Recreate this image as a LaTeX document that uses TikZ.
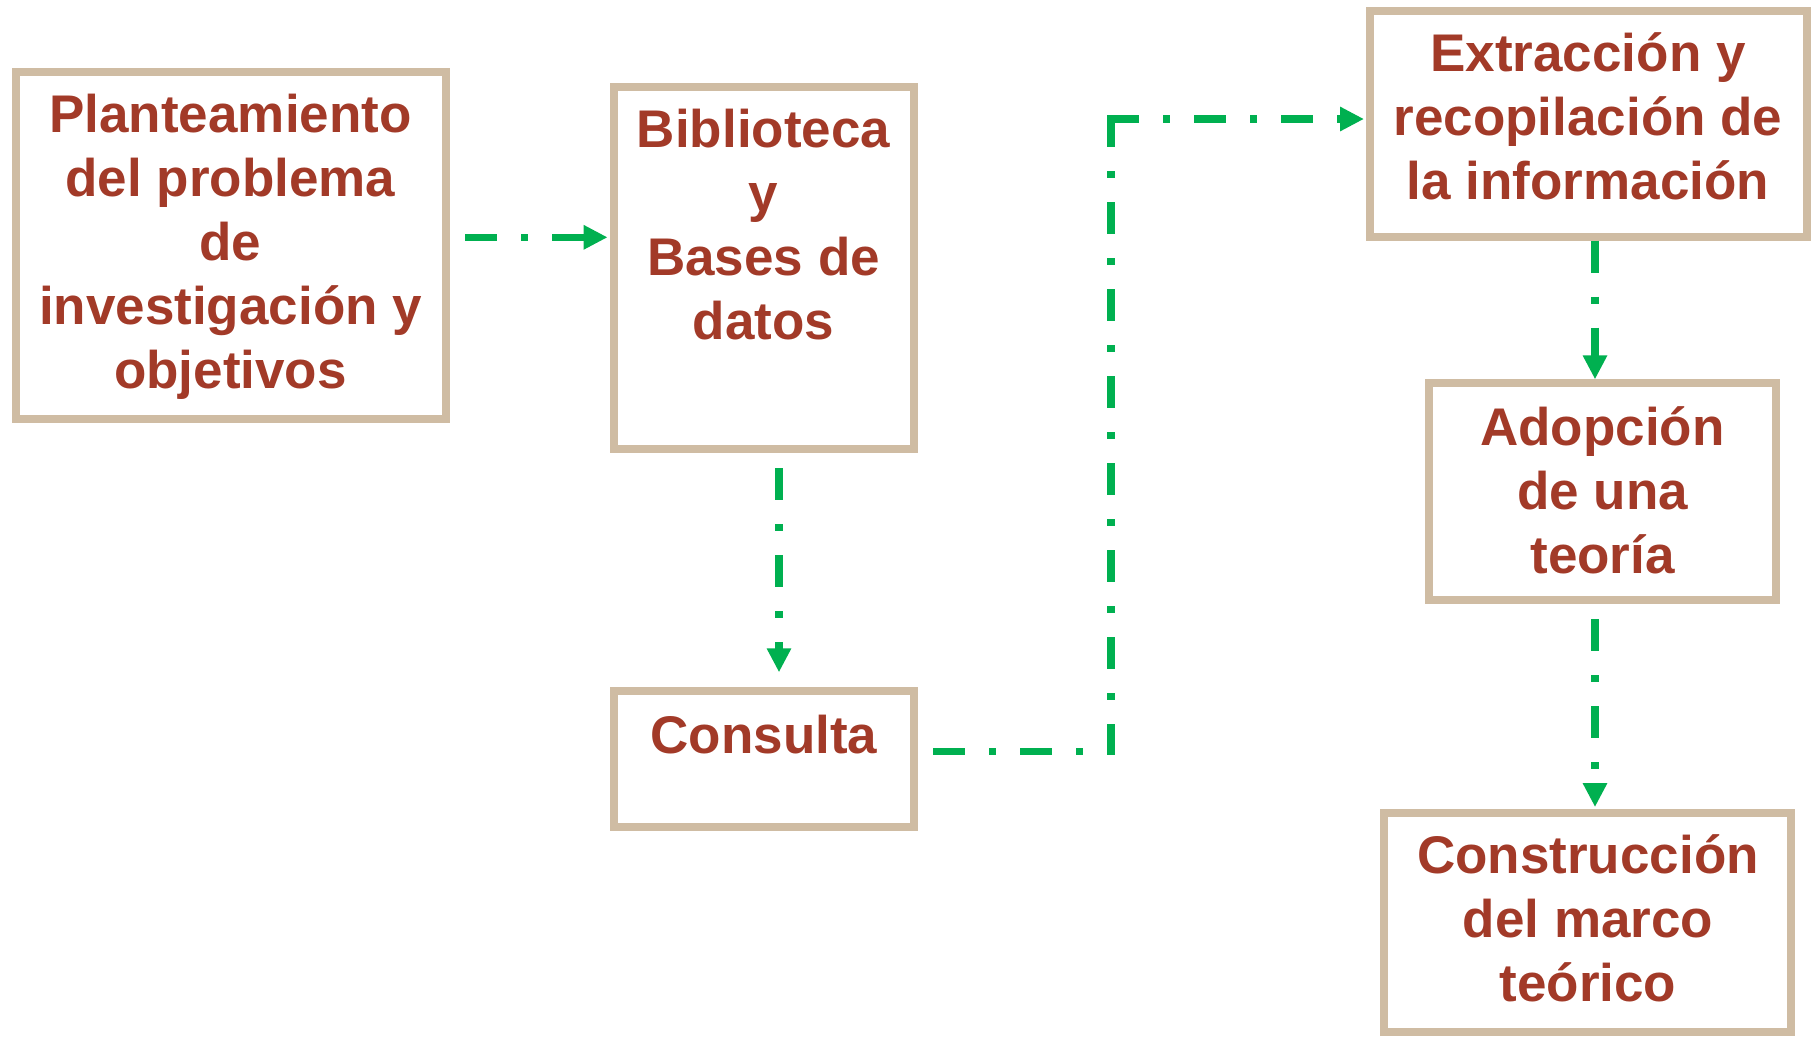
\documentclass[tikz,border=0pt]{standalone}
\usepackage{fontspec}
\setmainfont{Liberation Sans}
\usetikzlibrary{arrows.meta,calc}
\definecolor{txt}{HTML}{A23A28}
\definecolor{tanb}{HTML}{CFBCA3}
\definecolor{grn}{HTML}{00B050}
\begin{document}
\begin{tikzpicture}[x=1pt,y=-1pt,
  box/.style={draw=tanb,line width=8pt,rectangle,inner sep=0pt,fill=white},
  lbl/.style={text=txt,font=\bfseries\fontsize{53pt}{64pt}\selectfont,align=center,inner sep=0pt,anchor=base},
  seg/.style={draw=grn,line width=7.5pt,dash pattern=on 32pt off 24pt on 7pt off 24pt},
  conn/.style={seg,-{Triangle[length=24pt,width=23pt]}}]
\useasboundingbox (0,0) rectangle (1812,1037);
\fill[white] (0,0) rectangle (1812,1037);
% boxes
\node[box,minimum width=430pt,minimum height=347pt] (b1) at (230.5,245.2) {};
\node[box,minimum width=300pt,minimum height=361.4pt] (b2) at (763.6,268) {};
\node[box,minimum width=300pt,minimum height=136pt] (b3) at (763.6,759.3) {};
\node[box,minimum width=437pt,minimum height=225.4pt] (b4) at (1588,124) {};
\node[box,minimum width=347pt,minimum height=216.7pt] (b5) at (1602.5,491.7) {};
\node[box,minimum width=407pt,minimum height=219.3pt] (b6) at (1587.5,922.4) {};
% texts (anchor base = baseline of the last line)
\node[lbl] (t1) at (230.5,388.5) {Planteamiento\\del problema\\de\\investigación y\\objetivos};
\node[lbl] (t2) at (763.6,339.7) {Biblioteca\\y\\Bases de\\datos};
\node[lbl] (t3) at (764,753) {Consulta};
\node[lbl] (t4) at (1588,199.7) {Extracción y\\recopilación de\\la información};
\node[lbl] (t5) at (1602.5,573) {Adopción\\de una\\teoría};
\node[lbl] (t6) at (1588,1001.5) {Construcción\\del marco\\teórico};
% connectors
\coordinate (a1s) at ([xshift=15.5pt,yshift=7.9pt]b1.east);
\draw[conn] (a1s) -- ([xshift=-2pt]a1s -| b2.west);
\coordinate (a2s) at ([xshift=15.4pt,yshift=-15.6pt]b2.south);
\draw[conn] (a2s) -- ([yshift=15pt]a2s |- b3.north);
\coordinate (a3s) at ([xshift=15.4pt,yshift=8pt]b3.east);
\coordinate (a3c) at (1111,119);
\coordinate (a3b) at (a3c |- a3s);
\draw[seg] (a3s) -- (a3b);
\draw[seg] ([yshift=3.75pt]a3c) -- ([yshift=-3.75pt]a3b);
\draw[conn] ([xshift=-3.75pt]a3c) -- ([xshift=-1.5pt]a3c -| b4.west);
\coordinate (a4s) at ([xshift=7pt]b4.south);
\draw[conn] (a4s) -- (a4s |- b5.north);
\coordinate (a5s) at ([xshift=-7.5pt,yshift=-15.3pt]b5.south);
\draw[conn] (a5s) -- ([yshift=1.7pt]a5s |- b6.north);
\end{tikzpicture}
\end{document}
